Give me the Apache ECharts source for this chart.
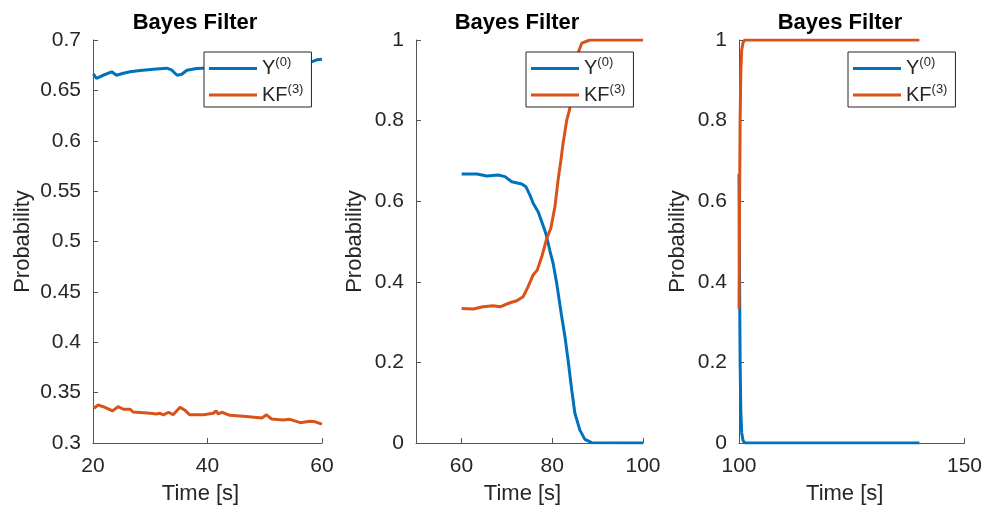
<!DOCTYPE html>
<html>
<head>
<meta charset="utf-8">
<script src="https://cdn.jsdelivr.net/npm/echarts@6/dist/echarts.min.js"></script>
<style>
html,body{margin:0;padding:0;background:#fff;}
#c{width:985px;height:510px;}
</style>
</head>
<body>
<div id="c"></div>
<script>
// ---- Data ----
const seriesNames = ['Y', 'KF'];
const titleText = 'Bayes Filter';
const xAxisName = 'Time [s]';
const yAxisName = 'Probability';

// Panel 1 (20-60 s)
const p1TimeY = [20.05, 20.6, 21.75, 23.27, 24.1, 25.3, 26.5, 28.2, 31.1, 32.9, 33.7, 34.7, 35.5, 36.4, 38.1, 39.2, 45, 52, 57.9, 59.1, 60];
const p1ValY  = [0.6663, 0.662, 0.665, 0.6684, 0.665, 0.667, 0.6684, 0.6697, 0.6713, 0.672, 0.6704, 0.665, 0.666, 0.670, 0.6717, 0.672, 0.673, 0.675, 0.6777, 0.6803, 0.681];
const p1TimeKF = [20.17, 20.9, 22.1, 23.4, 24.4, 25.3, 26.5, 27.0, 30.0, 31.1, 31.7, 32.3, 33.2, 34.0, 35.2, 36.0, 36.9, 39.3, 41.0, 41.5, 41.9, 42.5, 43.9, 46.8, 49.5, 50.3, 51.2, 53.2, 54.4, 56.2, 57.9, 58.8, 60];
const p1ValKF  = [0.3345, 0.3377, 0.3354, 0.3318, 0.3361, 0.3335, 0.3335, 0.3308, 0.3295, 0.3288, 0.3295, 0.328, 0.3305, 0.328, 0.3354, 0.3328, 0.328, 0.328, 0.3295, 0.3318, 0.3288, 0.3305, 0.3275, 0.3262, 0.3248, 0.328, 0.3238, 0.3228, 0.3235, 0.3202, 0.3215, 0.321, 0.3188];

// Panel 2 (60-100 s)
const p2TimeY = [60.06, 63.4, 65.6, 68.1, 69.6, 71.1, 73.3, 74.2, 75.1, 75.8, 76.9, 77.7, 78.6, 79.5, 80.2, 81.0, 82.1, 82.8, 83.5, 84.3, 85.0, 86.1, 87.2, 88.7, 100];
const p2ValY  = [0.6675, 0.6675, 0.6625, 0.665, 0.661, 0.6484, 0.6427, 0.636, 0.615, 0.595, 0.574, 0.549, 0.520, 0.477, 0.446, 0.396, 0.313, 0.264, 0.206, 0.1315, 0.0737, 0.032, 0.009, 0.0007, 0];
const p2TimeKF = [60.06, 62.6, 64.8, 67.0, 68.5, 70.7, 72.2, 73.6, 74.7, 75.8, 76.7, 77.7, 78.8, 79.7, 80.6, 81.3, 81.9, 82.4, 83.2, 83.8, 84.8, 85.8, 86.5, 88.3, 100];
const p2ValKF  = [0.334, 0.3325, 0.338, 0.3407, 0.338, 0.348, 0.353, 0.363, 0.388, 0.417, 0.429, 0.462, 0.508, 0.533, 0.586, 0.653, 0.7, 0.744, 0.801, 0.826, 0.91, 0.971, 0.992, 1.0, 1.0];

// Panel 3 (100-140 s)
const p3Time  = [100, 100.1, 100.25, 100.4, 100.6, 100.9, 101.3, 140];
const p3ValY  = [0.667, 0.45, 0.2, 0.08, 0.025, 0.006, 0, 0];
const p3ValKF = [0.333, 0.55, 0.8, 0.92, 0.975, 0.994, 1, 1];

// Axis tick values
const p1XTicks = [20, 40, 60];
const p2XTicks = [60, 80, 100];
const p3XTicks = [100, 150];

// ---- Styling ----
const BLUE = '#0072BD', ORANGE = '#D95319';
const FONT = 'Liberation Sans, Arial, Helvetica, sans-serif';
const TXT = '#262626';
const AXC = '#555555';

function pairs(t, v) { return t.map((x, i) => [x, v[i]]); }

const grids = [
  {left: 93, right: 985 - 322, top: 40, bottom: 510 - 443},
  {left: 416, right: 985 - 643, top: 40, bottom: 510 - 443},
  {left: 739, right: 985 - 966, top: 40, bottom: 510 - 443}
];

function xAxis(i, min, max, ticks) {
  return {
    type: 'value', gridIndex: i, min: min, max: max,
    interval: 10,
    name: xAxisName, nameLocation: 'middle', nameGap: 40,
    nameTextStyle: {color: TXT, fontSize: 22, fontFamily: FONT, padding: [0, 14, 0, 0]},
    axisLine: {show: true, lineStyle: {color: AXC, width: 1}},
    axisTick: {show: true, inside: true, length: 5, lineStyle: {color: AXC}, customValues: ticks},
    axisLabel: {color: TXT, fontSize: 21, fontFamily: FONT, margin: 13, customValues: ticks},
    splitLine: {show: false}
  };
}
function yAxis(i, min, max, interval, gap) {
  return {
    type: 'value', gridIndex: i, min: min, max: max, interval: interval,
    name: yAxisName, nameLocation: 'middle', nameGap: gap, nameRotate: 90,
    nameTextStyle: {color: TXT, fontSize: 22, fontFamily: FONT},
    axisLine: {show: true, lineStyle: {color: AXC, width: 1}},
    axisTick: {show: true, inside: true, length: 5, lineStyle: {color: AXC}},
    axisLabel: {color: TXT, fontSize: 21, fontFamily: FONT, margin: 12},
    splitLine: {show: false}
  };
}

function line(name, color, data, idx) {
  return {
    name: name, type: 'line', xAxisIndex: idx, yAxisIndex: idx,
    data: data, showSymbol: false, symbol: 'none', animation: false,
    lineStyle: {color: color, width: 3}, itemStyle: {color: color}
  };
}

const supMap = {Y: '(0)', KF: '(3)'};
function legend(left) {
  return {
    orient: 'vertical', left: left, top: 52,
    data: seriesNames,
    icon: 'rect', itemWidth: 48, itemHeight: 3, itemGap: 4,
    padding: [4, 8, 2, 5],
    backgroundColor: '#ffffff', borderColor: '#262626', borderWidth: 1,
    borderRadius: 0,
    formatter: function (n) { return '{m|' + n + '}{s|' + supMap[n] + '}'; },
    textStyle: {
      color: TXT, fontFamily: FONT,
      rich: {
        m: {fontSize: 20, lineHeight: 25, color: TXT, fontFamily: FONT},
        s: {fontSize: 13, lineHeight: 14, verticalAlign: 'top', color: TXT, fontFamily: FONT}
      }
    },
    selectedMode: false
  };
}

function title(x) {
  return {
    text: titleText, left: x, top: 7, textAlign: 'center',
    textStyle: {color: '#000', fontSize: 22, fontWeight: 'bold', fontFamily: FONT}
  };
}

const option = {
  animation: false,
  backgroundColor: '#ffffff',
  title: [title(190), title(512), title(835)],
  grid: grids,
  xAxis: [xAxis(0, 20, 60, p1XTicks), xAxis(1, 50, 100, p2XTicks), xAxis(2, 100, 150, p3XTicks)],
  yAxis: [yAxis(0, 0.3, 0.7, 0.05, 59), yAxis(1, 0, 1, 0.2, 50), yAxis(2, 0, 1, 0.2, 50)],
  legend: [legend(204), legend(526), legend(848)],
  series: [
    line('Y', BLUE, pairs(p1TimeY, p1ValY), 0),
    line('KF', ORANGE, pairs(p1TimeKF, p1ValKF), 0),
    line('Y', BLUE, pairs(p2TimeY, p2ValY), 1),
    line('KF', ORANGE, pairs(p2TimeKF, p2ValKF), 1),
    line('Y', BLUE, pairs(p3Time, p3ValY), 2),
    line('KF', ORANGE, pairs(p3Time, p3ValKF), 2)
  ]
};

const chart = echarts.init(document.getElementById('c'), null, {renderer: 'canvas'});
chart.setOption(option);
</script>
</body>
</html>
